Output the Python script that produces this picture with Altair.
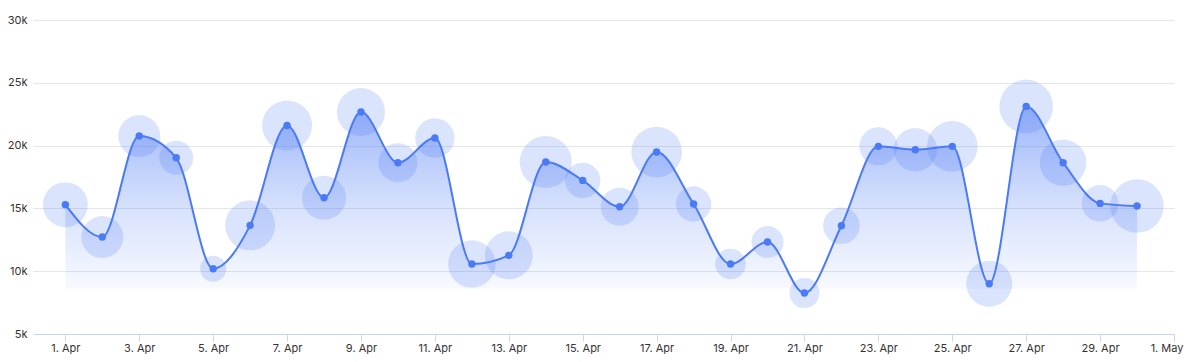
import altair as alt
import pandas as pd

# ---- data ----
dates = [f"2024-04-{d:02d}" for d in range(1, 31)]
values = [15300, 12720, 20760, 19030, 10200, 13650, 21600, 15850, 22670, 18640,
          20600, 10570, 11260, 18690, 17230, 15130, 19490, 15350, 10570, 12320,
          8260, 13620, 19940, 19670, 19940, 9000, 23120, 18640, 15400, 15190]
bubble_z = [506, 441, 441, 289, 169, 625, 625, 484, 576, 380,
            388, 562, 576, 676, 313, 361, 640, 313, 234, 256,
            225, 335, 361, 471, 640, 529, 718, 543, 335, 713]
y_ticks = [5000, 10000, 15000, 20000, 25000, 30000]
x_tick_days = [(4, d) for d in range(1, 31, 2)] + [(5, 1)]

df = pd.DataFrame({"date": dates, "value": values, "z": bubble_z})

BLUE = "#4a7af5"
FONT = "Inter"

x_enc = alt.X(
    "date:T",
    scale=alt.Scale(
        type="utc",
        domain=[alt.DateTime(year=2024, month=3, date=31, hours=3, utc=True),
                alt.DateTime(year=2024, month=5, date=1, utc=True)],
        nice=False,
    ),
    axis=alt.Axis(
        title=None,
        values=[alt.DateTime(year=2024, month=m, date=d, utc=True) for m, d in x_tick_days],
        format="%-d. %b",
        grid=False,
        domainColor="#ccd6eb",
        tickColor="#ccd6eb",
        tickSize=7,
        labelPadding=1,
        labelFontSize=11,
        labelColor="#333333",
        labelFont=FONT,
        labelFlush=True,
        labelFlushOffset=9,
        labelOverlap=False,
    ),
)
y_scale = alt.Scale(domain=[5000, 30000], nice=False, zero=False)
y_enc = alt.Y(
    "value:Q",
    scale=y_scale,
    axis=alt.Axis(
        title=None,
        values=y_ticks,
        format="~s",
        domain=False,
        ticks=False,
        gridColor="#e6e6e6",
        gridWidth=1,
        labelPadding=6,
        labelFontSize=11,
        labelColor="#333333",
        labelFont=FONT,
    ),
)

base = alt.Chart(df)

area = base.mark_area(
    interpolate="monotone",
    color=alt.Gradient(
        gradient="linear",
        stops=[
            alt.GradientStop(color="rgba(74,122,245,0.55)", offset=0),
            alt.GradientStop(color="rgba(74,122,245,0.22)", offset=0.55),
            alt.GradientStop(color="rgba(74,122,245,0.03)", offset=1),
        ],
        x1=0, x2=0, y1=0, y2=1,
    ),
).encode(x=x_enc, y=y_enc, y2=alt.datum(8600))

bubbles = base.mark_circle(color=BLUE, opacity=0.2).encode(
    x=x_enc,
    y=y_enc,
    size=alt.Size("z:Q", scale=alt.Scale(domain=[0, 750], range=[0, 3000]), legend=None),
)

line = base.mark_line(interpolate="monotone", color=BLUE, strokeWidth=2).encode(x=x_enc, y=y_enc)
points = base.mark_circle(color=BLUE, opacity=1, size=55).encode(x=x_enc, y=y_enc)

chart = (
    alt.layer(area, bubbles, line, points)
    .properties(
        width=1141,
        height=314,
        autosize=alt.AutoSizeParams(type="none"),
        padding={"left": 25, "top": 12, "right": 10, "bottom": 20},
    )
    .configure_view(stroke=None)
)

chart.save("out.html", embed_options={"renderer": "svg", "actions": False})
